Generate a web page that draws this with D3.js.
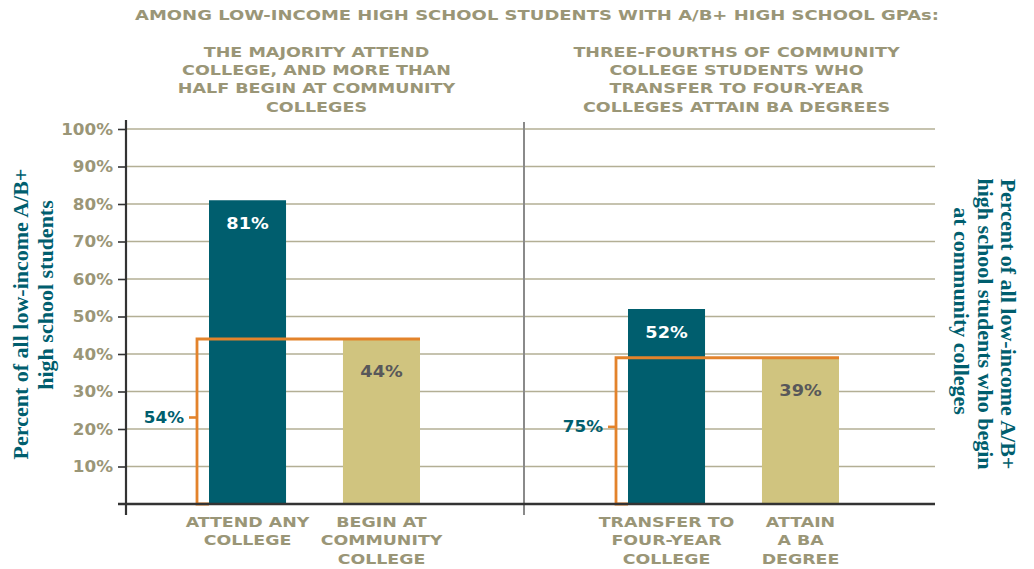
<!DOCTYPE html>
<html><head><meta charset="utf-8">
<script src="https://cdn.jsdelivr.net/npm/d3@7"></script>
<style>body{margin:0;background:#fff}svg{display:block}</style>
</head><body>
<svg id="chart" width="1034" height="569"></svg>
<script>
const title = "AMONG LOW-INCOME HIGH SCHOOL STUDENTS WITH A/B+ HIGH SCHOOL GPAs:";
const leftSubtitle = ["THE MAJORITY ATTEND","COLLEGE, AND MORE THAN","HALF BEGIN AT COMMUNITY","COLLEGES"];
const rightSubtitle = ["THREE-FOURTHS OF COMMUNITY","COLLEGE STUDENTS WHO","TRANSFER TO FOUR-YEAR","COLLEGES ATTAIN BA DEGREES"];
const leftCategories = [["ATTEND ANY","COLLEGE"],["BEGIN AT","COMMUNITY","COLLEGE"]];
const rightCategories = [["TRANSFER TO","FOUR-YEAR","COLLEGE"],["ATTAIN","A BA","DEGREE"]];
const leftValues = [81, 44];
const rightValues = [52, 39];
const leftBracketLabel = "54%";
const rightBracketLabel = "75%";
const yTicks = [10,20,30,40,50,60,70,80,90,100];
const leftAxisTitle = ["Percent of all low-income A/B+","high school students"];
const rightAxisTitle = ["Percent of all low-income A/B+","high school students who begin","at community colleges"];

const TEAL = "#005e6e", BEIGE = "#d0c47f", OLIVE = "#9a9677", ORANGE = "#e3832b", GRID = "#b3af95";
const FONT = "'DejaVu Sans', sans-serif";
const svg = d3.select("#chart");
const y = d3.scaleLinear().domain([0,100]).range([504,129]);
const axisX = 126, gridEnd = 935, divX = 524;

// helper: horizontally stretched text (emulates an extended typeface)
function wide(parent, x, yy, lines, opts) {
  const o = Object.assign({size:14, sx:1.3, lh:18.3, anchor:"middle", fill:OLIVE, weight:"bold"}, opts||{});
  const t = parent.append("text")
    .attr("transform", `translate(${x},${yy}) scale(${o.sx},1)`)
    .attr("text-anchor", o.anchor).attr("font-family", FONT).attr("font-weight", o.weight)
    .attr("font-size", o.size).attr("fill", o.fill);
  lines.forEach((l,k)=>t.append("tspan").attr("x",0).attr("y",k*o.lh).text(l));
  return t;
}

// gridlines
svg.append("g").selectAll("line").data(yTicks).join("line")
  .attr("x1", axisX).attr("x2", gridEnd).attr("y1", d=>y(d)).attr("y2", d=>y(d))
  .attr("stroke", GRID).attr("stroke-width", 1.6);

// left axis with ticks
const yAxis = d3.axisLeft(y).tickValues(yTicks).tickSize(8).tickFormat(()=> "");
const ga = svg.append("g").attr("transform",`translate(${axisX},0)`).call(yAxis);
ga.select(".domain").remove();
ga.selectAll(".tick line").attr("stroke","#333").attr("stroke-width",1.6);
ga.selectAll(".tick").each(function(d){
  wide(d3.select(this), -13, 0, [d+"%"], {size:15, sx:1.12, anchor:"end"})
    .select("tspan").attr("dy","0.36em");
});
svg.append("line").attr("x1",axisX).attr("x2",axisX).attr("y1",120).attr("y2",515)
  .attr("stroke","#333").attr("stroke-width",2.2);
// divider
svg.append("line").attr("x1",divX).attr("x2",divX).attr("y1",122).attr("y2",515)
  .attr("stroke","#8a8a8a").attr("stroke-width",2);

function panel(range, cats, vals, bracketLabel) {
  const x = d3.scaleBand().domain(d3.range(vals.length)).range(range).paddingInner(0.425).paddingOuter(0);
  const g = svg.append("g");
  g.selectAll("rect").data(vals).join("rect")
    .attr("x",(d,i)=>x(i)).attr("width",x.bandwidth())
    .attr("y",d=>y(d)).attr("height",d=>y(0)-y(d))
    .attr("fill",(d,i)=>i===0?TEAL:BEIGE);
  vals.forEach((d,i)=>{
    wide(g, x(i)+x.bandwidth()/2, y(d)+(i===0?29:38), [d+"%"],
      {size:15, sx:1.18, fill: i===0?"#ffffff":"#58585a"});
  });
  // category labels
  cats.forEach((lines,i)=> wide(g, x(i)+x.bandwidth()/2, 527, lines, {size:14.5, sx:1.2}));
  // bracket
  const bx = x(0) - 12, top = y(vals[1]), bot = y(0);
  g.append("path").attr("d",`M${x(0)},${top}H${bx}V${bot}H${x(0)}`)
    .attr("fill","none").attr("stroke",ORANGE).attr("stroke-width",2.8);
  g.append("line").attr("x1",x(0)).attr("x2",x(1)+x.bandwidth()).attr("y1",top).attr("y2",top)
    .attr("stroke",ORANGE).attr("stroke-width",3);
  const mid = (top+bot)/2 - 4;
  g.append("line").attr("x1",bx-8).attr("x2",bx).attr("y1",mid).attr("y2",mid)
    .attr("stroke",ORANGE).attr("stroke-width",2.6);
  wide(g, bx-13, mid+5.5, [bracketLabel], {size:15, sx:1.12, anchor:"end", fill:TEAL});
}
panel([209,420], leftCategories, leftValues, leftBracketLabel);
panel([628,839], rightCategories, rightValues, rightBracketLabel);

// title and subtitles
wide(svg, 537, 19.5, [title], {size:14.5, sx:1.24});
wide(svg, 316.5, 56.7, leftSubtitle, {size:14.5, sx:1.21});
wide(svg, 736.5, 56.7, rightSubtitle, {size:14.5, sx:1.21});

// axis titles
const serif = "'Liberation Serif', 'Times New Roman', serif";
const leftCenters = [314, 295];
leftAxisTitle.forEach((l,k)=>{
  svg.append("text").attr("transform",`translate(${28+k*25},${leftCenters[k]}) rotate(-90)`)
    .attr("text-anchor","middle").attr("font-family",serif).attr("font-weight","bold")
    .attr("font-size",22).attr("fill",TEAL).text(l);
});
const rightCenters = [324, 324, 311];
rightAxisTitle.forEach((l,k)=>{
  svg.append("text").attr("transform",`translate(${1001-k*23.5},${rightCenters[k]}) rotate(90)`)
    .attr("text-anchor","middle").attr("font-family",serif).attr("font-weight","bold")
    .attr("font-size",22).attr("fill",TEAL).text(l);
});

// bottom baseline
svg.append("line").attr("x1",axisX-8).attr("x2",gridEnd).attr("y1",y(0)).attr("y2",y(0))
  .attr("stroke","#333").attr("stroke-width",2.6);
</script>
</body></html>
